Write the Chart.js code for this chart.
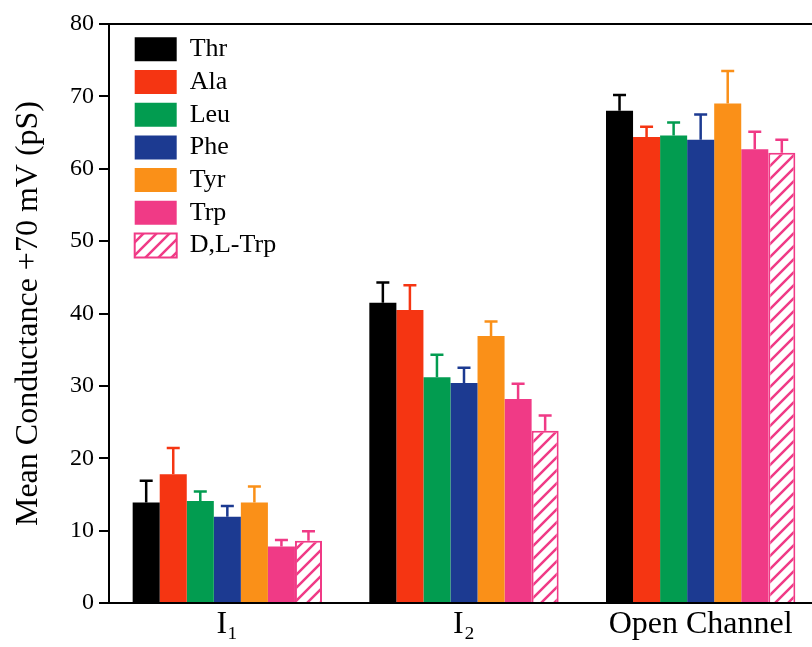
<!DOCTYPE html>
<html lang="en">
<head>
<meta charset="UTF-8">
<script src="https://cdn.jsdelivr.net/npm/chart.js"></script>
<style>
  html, body { margin: 0; overflow: hidden; background: #fff; }
  #wrap { width: 822px; height: 647px; }
</style>
<title>Mean Conductance</title>
</head>
<body>
<div id="wrap"><canvas id="chart"></canvas></div>
<script>
const categories = ['I\u2081', 'I\u2082', 'Open Channel'];
const seriesNames = ['Thr', 'Ala', 'Leu', 'Phe', 'Tyr', 'Trp', 'D,L-Trp'];

// mean conductance (pS)
const thr   = [13.9, 41.5, 68.0];
const ala   = [17.8, 40.5, 64.4];
const leu   = [14.1, 31.2, 64.6];
const phe   = [11.9, 30.4, 64.0];
const tyr   = [13.9, 36.9, 69.0];
const trp   = [7.8, 28.2, 62.7];
const dlTrp = [8.6, 23.8, 62.2];

// upper error (pS)
const thrErr   = [3.0, 2.8, 2.2];
const alaErr   = [3.6, 3.4, 1.4];
const leuErr   = [1.3, 3.1, 1.8];
const pheErr   = [1.5, 2.1, 3.5];
const tyrErr   = [2.2, 2.0, 4.5];
const trpErr   = [0.9, 2.1, 2.4];
const dlTrpErr = [1.3, 2.1, 1.8];

const yTicks = { min: 0, max: 80, step: 10 };

const serif = "'Liberation Serif', 'Times New Roman', serif";
const colors = ['#000000', '#f53512', '#029c50', '#1c3a91', '#fa9018', '#f03a86', '#f03a86'];

function hatch(color) {
    const s = 13;
    const c = document.createElement('canvas');
    c.width = s; c.height = s;
    const g = c.getContext('2d');
    g.fillStyle = '#fff';
    g.fillRect(0, 0, s, s);
    g.strokeStyle = color;
    g.lineWidth = 2.5;
    g.beginPath();
    g.moveTo(-1, 1); g.lineTo(1, -1);
    g.moveTo(0, s); g.lineTo(s, 0);
    g.moveTo(s - 1, s + 1); g.lineTo(s + 1, s - 1);
    g.stroke();
    return g.createPattern(c, 'repeat');
}

const values = [thr, ala, leu, phe, tyr, trp, dlTrp];
const errs = [thrErr, alaErr, leuErr, pheErr, tyrErr, trpErr, dlTrpErr];

const datasets = seriesNames.map((name, i) => {
    const hatched = i === 6;
    return {
        label: name,
        data: values[i],
        err: errs[i],
        backgroundColor: hatched ? hatch(colors[i]) : colors[i],
        borderColor: colors[i],
        borderWidth: hatched ? 2 : 0,
        borderSkipped: 'start'
    };
});

// upward-only error bars, same colour as the bar
const errorBars = {
    id: 'errorBars',
    afterDatasetsDraw(chart) {
        const ctx = chart.ctx;
        const y = chart.scales.y;
        chart.data.datasets.forEach((ds, i) => {
            const meta = chart.getDatasetMeta(i);
            meta.data.forEach((bar, j) => {
                const top = y.getPixelForValue(ds.data[j] + ds.err[j]);
                ctx.save();
                ctx.strokeStyle = ds.borderColor;
                ctx.lineWidth = 2.5;
                ctx.beginPath();
                ctx.moveTo(bar.x, bar.y);
                ctx.lineTo(bar.x, top);
                ctx.moveTo(bar.x - 6.5, top);
                ctx.lineTo(bar.x + 6.5, top);
                ctx.stroke();
                ctx.restore();
            });
        });
    }
};

// nudge the in-plot legend to the top-left corner
const legendSpot = {
    id: 'legendSpot',
    afterLayout(chart) {
        const lg = chart.legend;
        const ca = chart.chartArea;
        const w = lg.width, h = lg.height;
        lg.left = ca.left + 19;
        lg.top = ca.top + 5.6;
        lg.right = lg.left + w;
        lg.bottom = lg.top + h;
    }
};

new Chart(document.getElementById('chart'), {
    type: 'bar',
    data: { labels: categories, datasets: datasets },
    plugins: [errorBars, legendSpot],
    options: {
        responsive: true,
        maintainAspectRatio: false,
        animation: false,
        layout: { padding: { top: 24, right: 3, left: 0, bottom: 0 } },
        datasets: { bar: { categoryPercentage: 0.8, barPercentage: 1.0 } },
        plugins: {
            tooltip: { enabled: false },
            legend: {
                position: 'chartArea',
                align: 'start',
                labels: {
                    boxWidth: 42,
                    boxHeight: 24,
                    padding: 6.7,
                    color: '#000',
                    font: { family: serif, size: 26 }
                }
            }
        },
        scales: {
            x: {
                grid: { display: false, drawTicks: false },
                border: { display: true, color: '#000', width: 2 },
                ticks: { color: '#000', padding: 2, font: { family: serif, size: 32 } },
                afterFit: s => { s.height = 44; }
            },
            x2: {
                type: 'category',
                position: 'top',
                grid: { display: false, drawTicks: false },
                border: { display: true, color: '#000', width: 2 },
                ticks: { display: false },
                afterFit: s => { s.height = 0; }
            },
            y: {
                min: yTicks.min,
                max: yTicks.max,
                grid: { drawOnChartArea: false, drawTicks: true, tickLength: 10, color: '#000', lineWidth: 2 },
                border: { display: true, color: '#000', width: 2 },
                ticks: { stepSize: yTicks.step, color: '#000', padding: 5, font: { family: serif, size: 24 } },
                title: {
                    display: true,
                    text: 'Mean Conductance +70 mV (pS)',
                    color: '#000',
                    padding: { top: 9, bottom: 0 },
                    font: { family: serif, size: 32 }
                },
                afterFit: s => { s.width = 109; }
            }
        }
    }
});
</script>
</body>
</html>
